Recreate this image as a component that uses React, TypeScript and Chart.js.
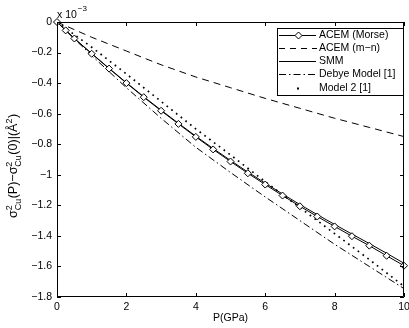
import React, { useEffect, useRef } from 'react';
import { Chart, registerables } from 'chart.js';
Chart.register(...registerables);

// Pressure grids (GPa)
const morseP = [0, 0.25, 0.5, 1, 1.5, 2, 2.5, 3, 3.5, 4, 4.5, 5, 5.5, 6, 6.5, 7, 7.5, 8, 8.5, 9, 9.5, 10];
const halfP = [0, 0.5, 1, 1.5, 2, 2.5, 3, 3.5, 4, 4.5, 5, 5.5, 6, 6.5, 7, 7.5, 8, 8.5, 9, 9.5, 10];
const intP = [0, 1, 2, 3, 4, 5, 6, 7, 8, 9, 10];

// Values in units of 1e-3 Å^2
const morseY = [0, -0.055, -0.108, -0.208, -0.305, -0.4, -0.492, -0.581, -0.667, -0.752, -0.834, -0.913, -0.99, -1.064, -1.136, -1.206, -1.273, -1.338, -1.402, -1.464, -1.53, -1.595];
const smmY = [0, -0.107, -0.206, -0.303, -0.397, -0.489, -0.577, -0.663, -0.747, -0.828, -0.906, -0.982, -1.055, -1.126, -1.195, -1.261, -1.325, -1.388, -1.45, -1.514, -1.579];
const mnY = [0, -0.1, -0.19, -0.28, -0.36, -0.43, -0.5, -0.565, -0.63, -0.69, -0.75];
const debyeY = [0, -0.22, -0.43, -0.63, -0.82, -0.985, -1.145, -1.3, -1.455, -1.6, -1.745];
const model2Y = [0, -0.165, -0.34, -0.52, -0.7, -0.87, -1.045, -1.215, -1.385, -1.555, -1.73];

const xTicks = [0, 2, 4, 6, 8, 10];
const yTicks = [0, -0.2, -0.4, -0.6, -0.8, -1, -1.2, -1.4, -1.6, -1.8];

const legendLabels = ['ACEM (Morse)', 'ACEM (m\u2212n)', 'SMM', 'Debye Model [1]', 'Model 2 [1]'];

const FONT = '"Liberation Sans", Arial, Helvetica, sans-serif';

const pts = (xs: number[], ys: number[]) => xs.map((x, i) => ({ x, y: ys[i] }));

const framePlugin = {
  id: 'frame',
  afterDatasetsDraw(chart: any) {
    const { ctx, chartArea } = chart;
    const { left, right, top, bottom } = chartArea;
    const xs = chart.scales.x;
    const ys = chart.scales.y;
    ctx.save();
    ctx.strokeStyle = '#000';
    ctx.lineWidth = 1;
    ctx.setLineDash([]);
    ctx.beginPath();
    ctx.rect(Math.round(left) + 0.5, Math.round(top) + 0.5, Math.round(right - left) - 1, Math.round(bottom - top) - 1);
    ctx.stroke();
    const tl = 4;
    ctx.beginPath();
    xTicks.forEach((v) => {
      const px = Math.round(xs.getPixelForValue(v)) + 0.5;
      ctx.moveTo(px, bottom);
      ctx.lineTo(px, bottom - tl);
      ctx.moveTo(px, top);
      ctx.lineTo(px, top + tl);
    });
    yTicks.forEach((v) => {
      const py = Math.round(ys.getPixelForValue(v)) + 0.5;
      ctx.moveTo(left, py);
      ctx.lineTo(left + tl, py);
      ctx.moveTo(right, py);
      ctx.lineTo(right - tl, py);
    });
    ctx.stroke();
    ctx.restore();
  },
};

const drawDiamond = (ctx: CanvasRenderingContext2D, x: number, y: number, r: number) => {
  ctx.beginPath();
  ctx.moveTo(x, y - r);
  ctx.lineTo(x + r, y);
  ctx.lineTo(x, y + r);
  ctx.lineTo(x - r, y);
  ctx.closePath();
  ctx.fillStyle = '#fff';
  ctx.fill();
  ctx.stroke();
};

const overlayPlugin = {
  id: 'overlay',
  afterDraw(chart: any) {
    const { ctx, chartArea } = chart;
    ctx.save();
    ctx.fillStyle = '#000';
    ctx.strokeStyle = '#000';

    // Exponent label
    ctx.font = `10.5px ${FONT}`;
    ctx.textBaseline = 'alphabetic';
    ctx.textAlign = 'left';
    ctx.fillText('x 10', chartArea.left, 18);
    const w10 = ctx.measureText('x 10').width;
    ctx.font = `8px ${FONT}`;
    ctx.fillText('\u22123', chartArea.left + w10 + 1, 11);

    // X title
    ctx.font = `10.5px ${FONT}`;
    ctx.textAlign = 'center';
    ctx.textBaseline = 'middle';
    ctx.fillText('P(GPa)', (chartArea.left + chartArea.right) / 2, 318);

    // Y title (rotated, with super/subscripts)
    const parts: any[] = [
      { t: '\u03c3' },
      { sup: '2', sub: 'Cu' },
      { t: '(P)\u2212\u03c3' },
      { sup: '2', sub: 'Cu' },
      { t: '(0)|(\u00c5' },
      { sup: '2' },
      { t: ')' },
    ];
    const mainF = `12.5px ${FONT}`;
    const smallF = `9px ${FONT}`;
    let total = 0;
    const widths = parts.map((p) => {
      let w = 0;
      if (p.t) {
        ctx.font = mainF;
        w = ctx.measureText(p.t).width;
      } else {
        ctx.font = smallF;
        w = Math.max(ctx.measureText(p.sup || '').width, ctx.measureText(p.sub || '').width) + 0.5;
      }
      total += w;
      return w;
    });
    ctx.translate(17, 166);
    ctx.rotate(-Math.PI / 2);
    ctx.textAlign = 'left';
    ctx.textBaseline = 'alphabetic';
    let cx = -total / 2;
    parts.forEach((p, i) => {
      if (p.t) {
        ctx.font = mainF;
        ctx.fillText(p.t, cx, 0);
      } else {
        ctx.font = smallF;
        if (p.sup) ctx.fillText(p.sup, cx, -5.5);
        if (p.sub) ctx.fillText(p.sub, cx, 4);
      }
      cx += widths[i];
    });
    ctx.setTransform(1, 0, 0, 1, 0, 0);

    // Legend
    const lx0 = 277, ly0 = 28, lx1 = 404, ly1 = 96;
    ctx.fillStyle = '#fff';
    ctx.fillRect(lx0, ly0, lx1 - lx0, ly1 - ly0);
    ctx.lineWidth = 1;
    ctx.setLineDash([]);
    ctx.strokeStyle = '#000';
    ctx.strokeRect(lx0 + 0.5, ly0 + 0.5, lx1 - lx0 - 1, ly1 - ly0 - 1);
    const rows = [35, 48, 61, 74, 87.5];
    const sx0 = 279, sx1 = 316, tx = 319;
    ctx.font = `10.5px ${FONT}`;
    ctx.textAlign = 'left';
    ctx.textBaseline = 'middle';
    rows.forEach((ry, i) => {
      const y = Math.round(ry) + 0.5;
      ctx.strokeStyle = '#000';
      ctx.lineWidth = 1;
      if (i === 0) {
        ctx.setLineDash([]);
        ctx.beginPath(); ctx.moveTo(sx0, y); ctx.lineTo(sx1, y); ctx.stroke();
        drawDiamond(ctx, (sx0 + sx1) / 2 + 1, y, 3.5);
      } else if (i === 1) {
        ctx.setLineDash([6, 5]);
        ctx.beginPath(); ctx.moveTo(sx0, y); ctx.lineTo(sx1 + 1, y); ctx.stroke();
      } else if (i === 2) {
        ctx.setLineDash([]);
        ctx.beginPath(); ctx.moveTo(sx0, y); ctx.lineTo(sx1, y); ctx.stroke();
      } else if (i === 3) {
        ctx.setLineDash([7, 3, 1.5, 3]);
        ctx.beginPath(); ctx.moveTo(sx0, y); ctx.lineTo(sx1 + 1, y); ctx.stroke();
      } else {
        ctx.setLineDash([]);
        ctx.fillStyle = '#000';
        ctx.fillRect(297, y - 1, 2, 2);
      }
      ctx.setLineDash([]);
      ctx.fillStyle = '#000';
      ctx.fillText(legendLabels[i], tx, ry + 0.5);
    });
    ctx.restore();
  },
};

export default function App() {
  const ref = useRef<HTMLCanvasElement | null>(null);
  useEffect(() => {
    if (!ref.current) return;
    const chart = new Chart(ref.current, {
      type: 'line',
      data: {
        datasets: [
          {
            label: legendLabels[0],
            data: pts(morseP, morseY),
            borderColor: '#000',
            borderWidth: 1,
            pointStyle: 'rectRot',
            pointRadius: 3.5,
            pointBackgroundColor: '#fff',
            pointBorderColor: '#000',
            pointBorderWidth: 1,
            clip: 10,
          } as any,
          {
            label: legendLabels[1],
            data: pts(intP, mnY),
            borderColor: '#000',
            borderWidth: 1,
            borderDash: [7, 5],
            pointRadius: 0,
          },
          {
            label: legendLabels[2],
            data: pts(halfP, smmY),
            borderColor: '#000',
            borderWidth: 1,
            pointRadius: 0,
          },
          {
            label: legendLabels[3],
            data: pts(intP, debyeY),
            borderColor: '#000',
            borderWidth: 1,
            borderDash: [7, 3, 1.5, 3],
            pointRadius: 0,
          },
          {
            label: legendLabels[4],
            data: pts(intP, model2Y),
            borderColor: '#000',
            borderWidth: 1.7,
            borderDash: [1.7, 4.3],
            pointRadius: 0,
          },
        ],
      },
      options: {
        animation: false,
        responsive: false,
        devicePixelRatio: 1,
        layout: { padding: { top: 22, right: 5, left: 0, bottom: 0 } },
        elements: { line: { tension: 0 } },
        plugins: { legend: { display: false }, tooltip: { enabled: false } },
        scales: {
          x: {
            type: 'linear',
            min: 0,
            max: 10,
            afterBuildTicks: (s: any) => { s.ticks = xTicks.map((v) => ({ value: v })); },
            afterFit: (s: any) => { s.height = 31; s.paddingLeft = 0; s.paddingRight = 0; },
            ticks: {
              color: '#000',
              font: { family: FONT, size: 10.5 },
              padding: 4,
              maxRotation: 0,
              autoSkip: false,
              callback: (v: any) => String(v),
            },
            grid: { display: false, drawTicks: false },
            border: { display: false },
          },
          y: {
            type: 'linear',
            min: -1.8,
            max: 0,
            afterBuildTicks: (s: any) => { s.ticks = yTicks.map((v) => ({ value: v })); },
            afterFit: (s: any) => { s.width = 57; s.paddingTop = 0; s.paddingBottom = 0; },
            ticks: {
              color: '#000',
              font: { family: FONT, size: 10.5 },
              padding: 5,
              autoSkip: false,
              callback: (v: any) => {
                const n = Number(v);
                if (Math.abs(n) < 1e-9) return '0';
                const a = Math.abs(n);
                const s = Math.abs(a - Math.round(a)) < 1e-9 ? String(Math.round(a)) : a.toFixed(1);
                return (n < 0 ? '\u2212' : '') + s;
              },
            },
            grid: { display: false, drawTicks: false },
            border: { display: false },
          },
        },
      } as any,
      plugins: [framePlugin, overlayPlugin],
    });
    return () => chart.destroy();
  }, []);
  return (
    <div style={{ position: 'absolute', left: 0, top: 0, width: 409, height: 328, background: '#fff' }}>
      <canvas ref={ref} width={409} height={328} style={{ width: 409, height: 328 }} />
    </div>
  );
}
